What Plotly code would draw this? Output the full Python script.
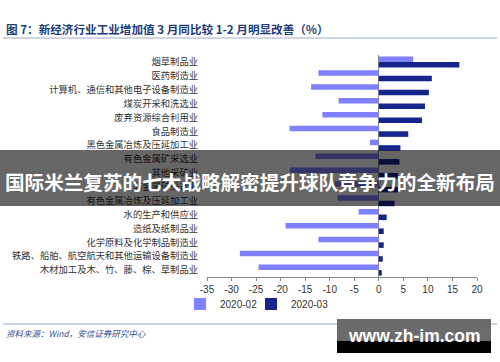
import plotly.graph_objects as go

categories = [
    "烟草制品业",
    "医药制造业",
    "计算机、通信和其他电子设备制造业",
    "煤炭开采和洗选业",
    "废弃资源综合利用业",
    "食品制造业",
    "黑色金属冶炼及压延加工业",
    "有色金属矿采选业",
    "其他采矿业",
    "非金属矿采选业",
    "有色金属冶炼及压延加工业",
    "水的生产和供应业",
    "造纸及纸制品业",
    "化学原料及化学制品制造业",
    "铁路、船舶、航空航天和其他运输设备制造业",
    "木材加工及木、竹、藤、棕、草制品业",
]
feb_2020 = [7.0, -12.3, -13.8, -8.2, -11.5, -18.2, -1.8, -12.9, -18.1, -9.0, -8.4, -4.1, -19.0, -12.3, -28.3, -24.5]
mar_2020 = [16.4, 10.8, 10.2, 9.4, 8.8, 6.0, 4.4, 4.2, 3.9, 3.9, 3.2, 1.6, 1.0, 1.0, 0.8, 0.6]
x_ticks = [-35, -30, -25, -20, -15, -10, -5, 0, 5, 10, 15, 20]

W, H = 500, 362
L, R, T, B = 207, 23, 55, 85
PW, PH = W - L - R, H - T - B

def px(x):
    return (x - L) / PW

def py(y):
    return 1 - (y - T) / PH

FONT = "Liberation Sans, Arial, Noto Sans CJK SC, sans-serif"
CJK = "Noto Sans CJK SC, sans-serif"

fig = go.Figure()
fig.add_trace(go.Bar(y=categories, x=feb_2020, orientation="h", name="2020-02",
                     marker=dict(color="#8080FF", line=dict(width=0)), legend="legend"))
fig.add_trace(go.Bar(y=categories, x=mar_2020, orientation="h", name="2020-03",
                     marker=dict(color="#14258E", line=dict(width=0)), legend="legend2"))

legend_common = dict(orientation="h", yanchor="middle", xanchor="left",
                     font=dict(family=FONT, size=10, color="#333333"),
                     itemwidth=30, bgcolor="rgba(0,0,0,0)")

fig.update_layout(
    width=W, height=H,
    margin=dict(l=L, r=R, t=T, b=B),
    paper_bgcolor="white", plot_bgcolor="white",
    barmode="group", bargap=0.2, bargroupgap=0,
    font=dict(family=FONT, size=10, color="#333333"),
    showlegend=True,
    legend=dict(x=px(180), y=py(304), **legend_common),
    legend2=dict(x=px(251), y=py(304), **legend_common),
    xaxis=dict(range=[-35, 20], tickvals=x_ticks, ticktext=[str(v) for v in x_ticks],
               showgrid=False, zeroline=True, zerolinecolor="#888888", zerolinewidth=1,
               showline=True, linecolor="#888888", linewidth=1,
               ticks="outside", ticklen=3, tickcolor="#888888",
               tickfont=dict(family=FONT, size=10, color="#333333")),
    yaxis=dict(autorange="reversed", showgrid=False, showline=False, ticks="",
               ticklabelstandoff=8,
               tickfont=dict(family=CJK, size=9.3, color="#333333")),
)

shapes = []
# title underline and footer line
shapes.append(dict(type="line", xref="paper", yref="paper", x0=px(3), x1=px(497), y0=py(38), y1=py(38),
                   line=dict(color="#9AAECB", width=1.2)))
shapes.append(dict(type="line", xref="paper", yref="paper", x0=px(3), x1=px(497), y0=py(324), y1=py(324),
                   line=dict(color="#9AAECB", width=1.2)))
# overlay banner
shapes.append(dict(type="rect", xref="paper", yref="paper", x0=px(0), x1=px(500), y0=py(150), y1=py(206),
                   fillcolor="rgba(0,0,0,0.6)", line=dict(width=0), layer="above"))
# watermark boxes
shapes.append(dict(type="rect", xref="paper", yref="paper", x0=px(337), x1=px(491), y0=py(319), y1=py(341),
                   fillcolor="#6B6B6B", line=dict(width=0), layer="above"))
shapes.append(dict(type="rect", xref="paper", yref="paper", x0=px(337), x1=px(491), y0=py(341), y1=py(353),
                   fillcolor="#000000", line=dict(width=0), layer="above"))
fig.update_layout(shapes=shapes)

annotations = [
    dict(text="<b>图 7：新经济行业工业增加值 3 月同比较 1-2 月明显改善（%）</b>",
         xref="paper", yref="paper", x=px(4), y=py(29), xanchor="left", yanchor="middle",
         showarrow=False, font=dict(family=CJK, size=11.6, color="#1F3D7A")),
    dict(text="<i>资料来源：Wind，安信证券研究中心</i>",
         xref="paper", yref="paper", x=px(4), y=py(333), xanchor="left", yanchor="middle",
         showarrow=False, font=dict(family=CJK, size=8.5, color="#2F4F8F")),
    dict(text="<b>国际米兰复苏的七大战略解密提升球队竞争力的全新布局</b>",
         xref="paper", yref="paper", x=px(250), y=py(181), xanchor="center", yanchor="middle",
         showarrow=False, font=dict(family=CJK, size=19.6, color="white")),
    dict(text="<b>www.zh-im.com</b>",
         xref="paper", yref="paper", x=px(414), y=py(336), xanchor="center", yanchor="middle",
         showarrow=False, font=dict(family="Liberation Sans, Arial, sans-serif", size=17.5, color="white")),
]
fig.update_layout(annotations=annotations)

fig.write_html("out.html", config={"displayModeBar": False},
               post_script="document.body.style.margin='0';")
